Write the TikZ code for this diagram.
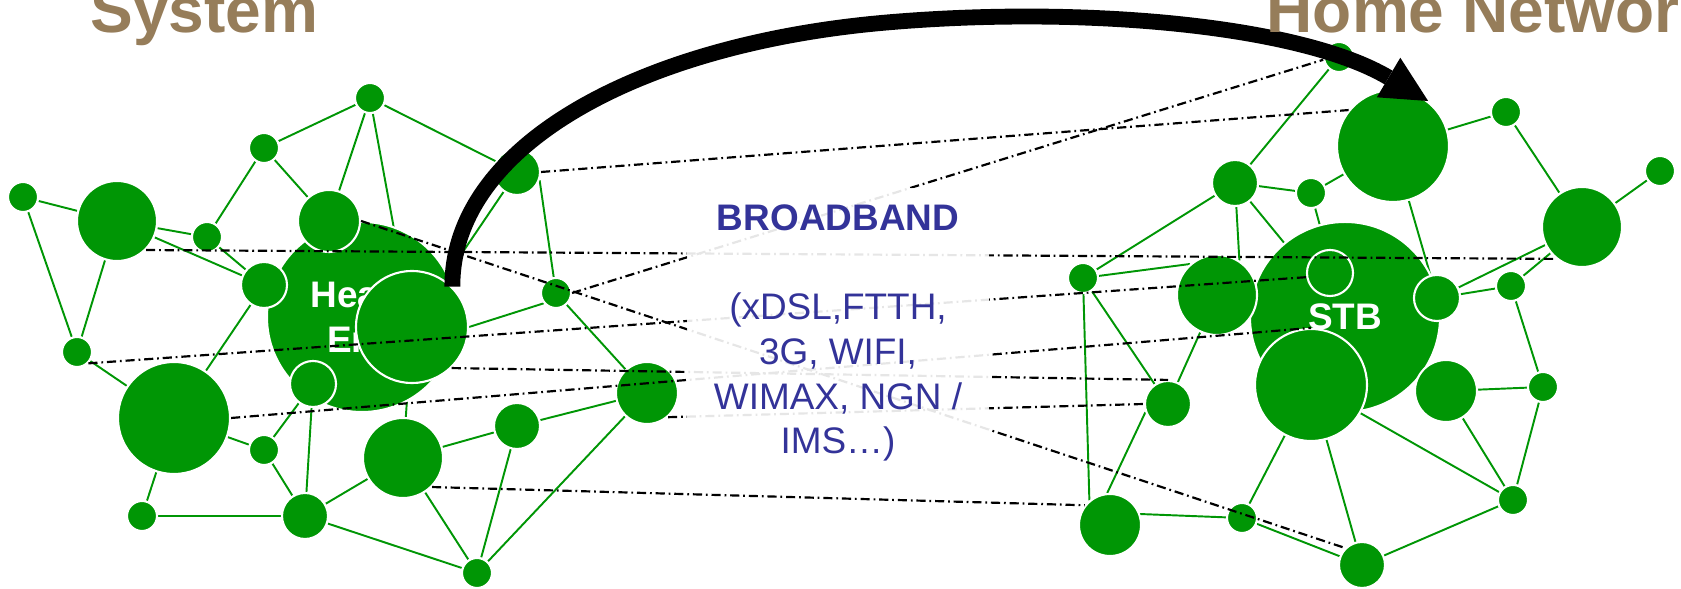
\documentclass[tikz,border=0pt]{standalone}
\usepackage{fontspec}
\setmainfont{Liberation Sans}
\usetikzlibrary{arrows.meta}
\definecolor{netgreen}{RGB}{0,150,5}
\definecolor{titlebrown}{RGB}{150,125,90}
\definecolor{bandblue}{RGB}{51,51,153}
\pgfdeclarelayer{bg}
\pgfsetlayers{bg,main}
\tikzset{
  dot/.style={circle, fill=netgreen, draw=white, line width=0.6pt, inner sep=0pt},
  dotxs/.style={dot, minimum size=0.30cm},
  dots/.style={dot, minimum size=0.46cm},
  dotm/.style={dot, minimum size=0.62cm},
  dotl/.style={dot, minimum size=0.80cm},
  dotxl/.style={dot, minimum size=1.12cm},
  hub/.style={dot, minimum size=1.90cm, text=white, align=center,
    font=\fontsize{10.5}{12.8}\selectfont\bfseries},
  link/.style={netgreen, line width=0.55pt},
  air/.style={black, line width=0.62pt, dash pattern=on 2.6pt off 1.1pt on 0.5pt off 1.1pt},
  push/.style={line width=4.5pt, -{Triangle[length=0.46cm, width=0.46cm, line width=0pt]}},
  title/.style={titlebrown, anchor=base west, inner sep=0pt,
    font=\fontsize{18.2}{21}\selectfont\bfseries}
}
\begin{document}
\begin{tikzpicture}[x=0.01cm, y=-0.01cm]
  \useasboundingbox (0,0) rectangle (1681,589);
  % head end side
  \node[hub] (hd) at (362,317) {Head-\\End};
  \node[dotxs] (l1) at (23,197) {};
  \node[dotl] (l2) at (117,221) {};
  \node[dotxs] (l3) at (207,237) {};
  \node[dotxs] (l4) at (264,148) {};
  \node[dotxs] (l5) at (370,98) {};
  \node[dotm] (l6) at (329,221) {};
  \node[dots] (l7) at (517,172) {};
  \node[dots] (l8) at (264,285) {};
  \node[dotxl] (l9) at (412,327) {};
  \node[dots] (l10) at (313,384) {};
  \node[dotxs] (l11) at (77,352) {};
  \node[dotxl] (l12) at (174,418) {};
  \node[dotxs] (l13) at (264,450) {};
  \node[dotxs] (l14) at (142,516) {};
  \node[dots] (l15) at (305,516) {};
  \node[dotl] (l16) at (403,458) {};
  \node[dots] (l17) at (517,426) {};
  \node[dotxs] (l18) at (477,573) {};
  \node[dotm] (l19) at (647,393) {};
  \node[dotxs] (l20) at (556,293) {};
  % home side
  \node[hub] (stb) at (1345,317) {STB};
  \node[dotxs] (r1) at (1339,57) {};
  \node[dotxl] (r2) at (1393,146) {};
  \node[dotxs] (r3) at (1506,112) {};
  \node[dotxs] (r4) at (1660,171) {};
  \node[dotl] (r5) at (1582,227) {};
  \node[dots] (r6) at (1235,183) {};
  \node[dotxs] (r7) at (1311,193) {};
  \node[dots] (r8) at (1330,273) {};
  \node[dots] (r9) at (1437,298) {};
  \node[dotxs] (r10) at (1511,286) {};
  \node[dotl] (r11) at (1217,295) {};
  \node[dotxs] (r12) at (1083,278) {};
  \node[dotxl] (r13) at (1311,385) {};
  \node[dotm] (r14) at (1446,391) {};
  \node[dotxs] (r15) at (1543,387) {};
  \node[dots] (r16) at (1168,404) {};
  \node[dotxs] (r17) at (1513,500) {};
  \node[dotxs] (r18) at (1242,518) {};
  \node[dots] (r19) at (1362,565) {};
  \node[dotm] (r20) at (1110,525) {};

  \begin{pgfonlayer}{bg}
    \draw[link] (l1) -- (l2) (l1) -- (l11) (l2) -- (l11) (l2) -- (l3) (l2) -- (l8);
    \draw[link] (l3) -- (l4) (l3) -- (l8) (l4) -- (l5) (l4) -- (l6) (l5) -- (l6);
    \draw[link] (l5) -- (l9) (l5) -- (l7) (l7.-20) -- (l20) (l7) -- (l9) (l8) -- (l12);
    \draw[link] (l10) -- (l13) (l10) -- (l15) (l11) -- (l12) (l12) -- (l13) (l12) -- (l14);
    \draw[link] (l13) -- (l15) (l14) -- (l15) (l15) -- (l16) (l15) -- (l18) (l16) -- (l17);
    \draw[link] (l16) -- (l18) (l16) -- (l9) (l17) -- (l18) (l17) -- (l19) (l18) -- (l19);
    \draw[link] (l9.east) -- (l20.220) (l20) -- (l19);

    \draw[link] (r1) -- (r6) (r2) -- (r3) (r3) -- (r5) (r4) -- (r5) (r6) -- (r12);
    \draw[link] (r6) -- (r7) (r6) -- (r11.57) (r6) -- (stb) (r7) -- (stb) (r2) -- (r9);
    \draw[link] (r12) -- (r16) (r12) -- (r20.130) (r12) -- (r11.131) (r9) -- (r5) (r10) -- (r5);
    \draw[link] (r9) -- (r10) (r10) -- (r15) (r14) -- (r15) (r14) -- (r17) (r15) -- (r17);
    \draw[link] (r13) -- (r17) (r17) -- (r19) (r13) -- (r19) (r13) -- (r18) (r18) -- (r19);
    \draw[link] (r20.20) -- (r18) (r16.200) -- (r20.95) (r11) -- (r16) (r7) -- (r2);
  \end{pgfonlayer}

  % broadband paths
  \draw[air] (l2.-45) -- (r5.231);
  \draw[air] (l6.east) -- (r19.135);
  \draw[air] (l7.east) -- (r2.141);
  \draw[air] (l20.east) -- (r1.190);
  \draw[air] (l11.-45) -- (r8.190);
  \draw[air] (l9.-46) -- (r16.north);
  \draw[air] (l12.east) -- (r13.north);
  \draw[air] (l19.-49) -- (r16.west);
  \draw[air] (l16.-45) -- (r20.142);

  \node[fill=white, fill opacity=0.9, text opacity=1, text=bandblue, align=center,
    minimum width=3.02cm, minimum height=2.90cm, inner sep=0pt,
    font=\fontsize{10.5}{12.7}\selectfont] (band) at (838,333)
    {\textbf{BROADBAND}\\ ~\\ (xDSL,FTTH,\\ 3G, WIFI,\\ WIMAX, NGN /\\ IMS…)};

  \draw[push] (l9.45) .. controls (452,145) and (640,45) .. (881,23)
    .. controls (1081,5) and (1300,25) .. (r2.52);

  \node[title] (sys) at (90,33) {System};
  \node[title] (home) at (1266,33) {Home Network};
\end{tikzpicture}
\end{document}
